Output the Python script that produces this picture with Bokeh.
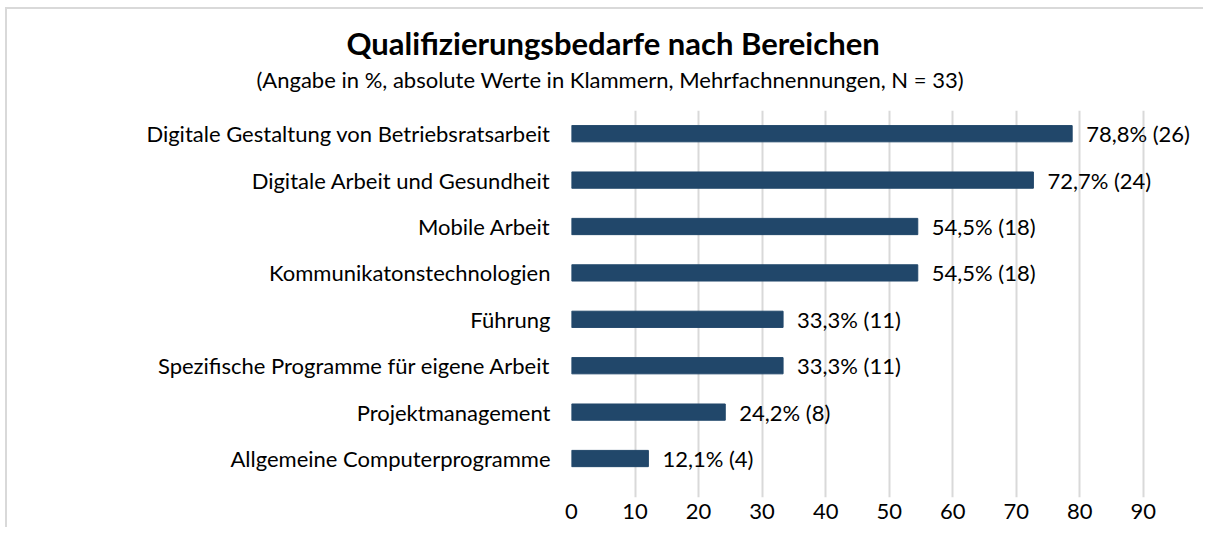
from bokeh.plotting import figure
from bokeh.models import ColumnDataSource, Range1d, FixedTicker, Title
from bokeh.core.properties import value
from bokeh.embed import file_html
from bokeh.resources import INLINE

categories = [
    "Digitale Gestaltung von Betriebsratsarbeit",
    "Digitale Arbeit und Gesundheit",
    "Mobile Arbeit",
    "Kommunikatonstechnologien",
    "Führung",
    "Spezifische Programme für eigene Arbeit",
    "Projektmanagement",
    "Allgemeine Computerprogramme",
]
percent = [78.8, 72.7, 54.5, 54.5, 33.3, 33.3, 24.2, 12.1]
counts = [26, 24, 18, 18, 11, 11, 8, 4]
x_ticks = [0, 10, 20, 30, 40, 50, 60, 70, 80, 90]
title_text = "Qualifizierungsbedarfe nach Bereichen"
subtitle_text = "(Angabe in %, absolute Werte in Klammern, Mehrfachnennungen, N = 33)"

FONT = "Lato"
BAR = "#21476A"
FS = "22px"

pos = list(range(1, len(categories) + 1))
labels = [f"{v:.1f}".replace(".", ",") + f"% ({n})" for v, n in zip(percent, counts)]
src = ColumnDataSource(dict(y=pos, v=percent, label=labels))

p = figure(width=1198, height=520, output_backend="svg", toolbar_location=None,
           x_range=Range1d(0, 99), y_range=Range1d(len(categories) + 0.84, 0.5),
           min_border_left=564, min_border_right=5, min_border_bottom=32,
           min_border_top=101,
           styles={"margin-left": "5px", "margin-top": "7px",
                   "border-left": "2px solid #d9d9d9", "border-top": "2px solid #d9d9d9"})

# spacer between subtitle and plot area
p.add_layout(Title(text=" ", text_font_size="10px", standoff=3), "above")
p.add_layout(Title(text=subtitle_text, align="left", offset=-315, text_font=FONT,
                   text_font_size=FS, text_font_style="normal",
                   text_color="#000000", standoff=4), "above")
p.title.text = title_text
p.title.align = "left"
p.title.offset = -225
p.title.standoff = 0
p.title.text_font = FONT
p.title.text_font_size = "31px"
p.title.text_font_style = "bold"
p.title.text_color = "#000000"

p.hbar(y="y", left=0, right="v", height=0.35, source=src, fill_color=BAR,
       line_color=BAR)
p.text(x="v", y="y", text="label", source=src, x_offset=14,
       text_align="left", text_baseline="middle", text_font=value(FONT),
       text_font_size=FS, text_color="#000000")

p.xgrid.ticker = FixedTicker(ticks=x_ticks)
p.xgrid.grid_line_color = "#D9D9D9"
p.xgrid.grid_line_width = 2
p.ygrid.visible = False
p.outline_line_color = None
p.background_fill_color = "white"
p.border_fill_color = "white"

p.xaxis.ticker = FixedTicker(ticks=x_ticks)
p.xaxis.axis_line_color = None
p.xaxis.major_tick_line_color = None
p.xaxis.minor_tick_line_color = None
p.xaxis.major_label_text_font = FONT
p.xaxis.major_label_text_font_size = FS
p.xaxis.major_label_text_color = "#000000"
p.xaxis.major_label_standoff = 0

p.yaxis.ticker = FixedTicker(ticks=pos)
p.yaxis.major_label_overrides = {i: c for i, c in zip(pos, categories)}
p.yaxis.axis_line_color = None
p.yaxis.major_tick_line_color = None
p.yaxis.minor_tick_line_color = None
p.yaxis.major_label_text_font = FONT
p.yaxis.major_label_text_font_size = FS
p.yaxis.major_label_text_color = "#000000"
p.yaxis.major_label_standoff = 15

open("out.html", "w").write(file_html(p, INLINE))
